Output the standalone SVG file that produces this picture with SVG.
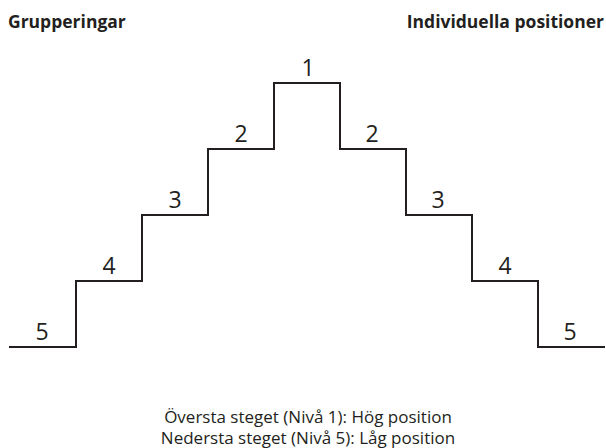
<svg xmlns="http://www.w3.org/2000/svg" width="606" height="448" viewBox="0 0 606 448">
<style>
.hd{font-family:"Open Sans","Liberation Sans",sans-serif;font-weight:bold;font-size:17.5px;fill:#231f20}
.lb{font-family:"Open Sans","Liberation Sans",sans-serif;font-size:23px;fill:#231f20;text-anchor:middle}
.ft{font-family:"Open Sans","Liberation Sans",sans-serif;font-size:17px;fill:#231f20;text-anchor:middle}
.st{fill:none;stroke:#231f20;stroke-width:2}
</style>
<rect width="606" height="448" fill="#fff"/>
<g id="headers">
<text class="hd" x="8" y="28">Grupperingar</text>
<text class="hd" x="604" y="28" text-anchor="end">Individuella positioner</text>
</g>
<g id="connectors">
<polyline class="st" points="9,347 76,347 76,281 142,281 142,215 208,215 208,149 274,149 274,83 340,83 340,149 406,149 406,215 472,215 472,281 538,281 538,347 605,347"/>
</g>
<g id="labels">
<text class="lb" x="42" y="340">5</text>
<text class="lb" x="109" y="274">4</text>
<text class="lb" x="175" y="208">3</text>
<text class="lb" x="241" y="142">2</text>
<text class="lb" x="308" y="76">1</text>
<text class="lb" x="372" y="142">2</text>
<text class="lb" x="438" y="208">3</text>
<text class="lb" x="505" y="274">4</text>
<text class="lb" x="570" y="340">5</text>
</g>
<g id="footer">
<text class="ft" x="308" y="423">Översta steget (Nivå 1): Hög position</text>
<text class="ft" x="308" y="444">Nedersta steget (Nivå 5): Låg position</text>
</g>
</svg>
